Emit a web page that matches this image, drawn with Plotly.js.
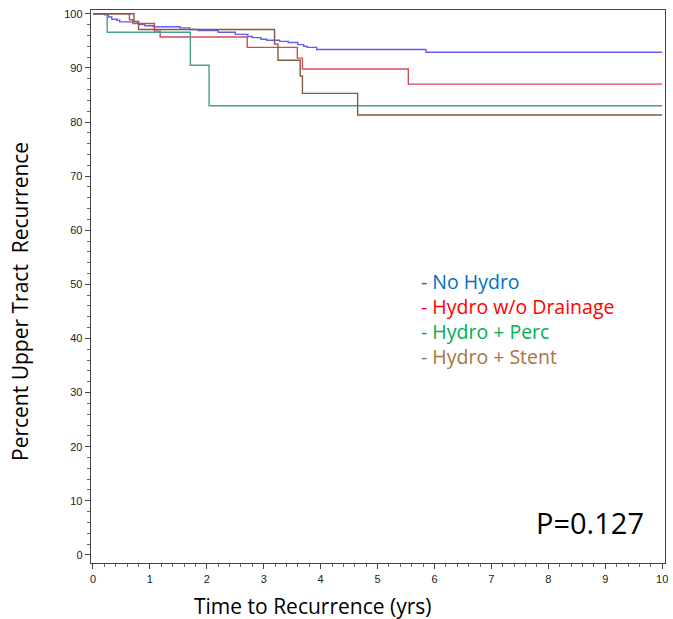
<!DOCTYPE html>
<html>
<head>
<meta charset="utf-8">
<script src="https://cdn.plot.ly/plotly-3.0.1.min.js"></script>
<style>html,body{margin:0;padding:0;background:#fff;}#chart{width:673px;height:619px;}</style>
</head>
<body>
<div id="chart"></div>
<script>
// Kaplan-Meier step data (time in years, percent)
const noHydroT = [0, 0.21, 0.27, 0.33, 0.42, 0.47, 0.80, 0.91, 1.06, 1.53, 1.70, 1.85, 2.20, 2.50, 2.72, 2.80, 2.95, 3.05, 3.28, 3.43, 3.60, 3.70, 3.76, 3.93, 5.85, 10];
const noHydroY = [100, 99.8, 99.4, 99.0, 98.8, 98.5, 98.0, 97.8, 97.6, 97.4, 97.1, 96.9, 96.6, 96.2, 95.8, 95.6, 95.3, 95.1, 94.9, 94.7, 94.3, 94.0, 93.8, 93.4, 92.9, 92.9];

const noDrainT = [0, 0.64, 0.70, 1.08, 1.18, 2.71, 3.59, 3.68, 5.54, 10];
const noDrainY = [100, 98.9, 98.2, 96.8, 95.7, 93.8, 91.8, 89.8, 87.0, 87.0];

const percT = [0, 0.25, 1.71, 2.04, 10];
const percY = [100, 96.6, 90.5, 83.0, 83.0];

const stentT = [0, 0.72, 0.80, 3.19, 3.25, 3.64, 3.68, 4.65, 10];
const stentY = [100, 98.6, 97.1, 94.4, 91.4, 88.5, 85.3, 81.3, 81.3];

const legendLabels = ['- No Hydro', '- Hydro w/o Drainage', '- Hydro + Perc', '- Hydro + Stent'];
const legendColors = ['#0070C0', '#FF0000', '#00B050', '#A8743E'];
const lineColors = ['#6060f0', '#d24a5a', '#4a9e90', '#7e5e3e'];
const xTicks = [0,1,2,3,4,5,6,7,8,9,10];
const yTicks = [0,10,20,30,40,50,60,70,80,90,100];

const series = [[noHydroT, noHydroY], [noDrainT, noDrainY], [percT, percY], [stentT, stentY]];
const traces = series.map((s, i) => ({
  x: s[0], y: s[1], type: 'scatter', mode: 'lines',
  line: {shape: 'hv', color: lineColors[i], width: 1.4},
  hoverinfo: 'skip', showlegend: false
}));

const calibri = '"Open Sans", Lato, sans-serif';
const annotations = legendLabels.map((t, i) => ({
  xref: 'paper', yref: 'paper', x: (419 - 91) / 574, y: 1 - (281 + i * 25 - 10) / 553,
  xanchor: 'left', yanchor: 'middle', text: t, showarrow: false,
  font: {family: calibri, size: 19.5, color: legendColors[i]}
}));
annotations.push({
  xref: 'paper', yref: 'paper', x: (646 - 91) / 574, y: 1 - (522 - 10) / 553,
  xanchor: 'right', yanchor: 'middle', text: 'P=0.127', showarrow: false,
  font: {family: calibri, size: 29, color: '#000'}
});
annotations.push({
  xref: 'paper', yref: 'paper', x: (312 - 91) / 574, y: 1 - (606 - 10) / 553,
  xanchor: 'center', yanchor: 'middle', text: 'Time to Recurrence (yrs)', showarrow: false,
  font: {family: calibri, size: 21, color: '#000'}
});
annotations.push({
  xref: 'paper', yref: 'paper', x: (20 - 91) / 574, y: 1 - (302 - 10) / 553,
  xanchor: 'center', yanchor: 'middle', text: 'Percent Upper Tract  Recurrence', showarrow: false,
  textangle: -90,
  font: {family: calibri, size: 21, color: '#000'}
});

const layout = {
  width: 673, height: 619,
  margin: {l: 91, r: 8, t: 10, b: 56},
  paper_bgcolor: '#fff', plot_bgcolor: '#fff',
  showlegend: false,
  font: {family: '"Liberation Sans", Arial, sans-serif', size: 11, color: '#333'},
  xaxis: {
    range: [-0.035, 10.05], tickvals: xTicks, ticktext: xTicks.map(String),
    showgrid: false, zeroline: false, showline: true, linecolor: '#444', linewidth: 1.3,
    mirror: true, ticks: 'outside', ticklen: 5, tickcolor: '#444', tickwidth: 1,
    minor: {dtick: 0.2, ticks: 'outside', ticklen: 3, tickcolor: '#666', showgrid: false},
    tickfont: {family: '"Liberation Sans", Arial, sans-serif', size: 11, color: '#222'}
  },
  yaxis: {
    range: [-1.5, 100.7], tickvals: yTicks, ticktext: yTicks.map(String),
    showgrid: false, zeroline: false, showline: true, linecolor: '#444', linewidth: 1.3,
    mirror: true, ticks: 'outside', ticklen: 5, tickcolor: '#444', tickwidth: 1,
    minor: {dtick: 2, ticks: 'outside', ticklen: 3, tickcolor: '#666', showgrid: false},
    tickfont: {family: '"Liberation Sans", Arial, sans-serif', size: 11, color: '#222'}
  },
  annotations: annotations
};

Plotly.newPlot('chart', traces, layout, {staticPlot: true, displayModeBar: false});
</script>
</body>
</html>
